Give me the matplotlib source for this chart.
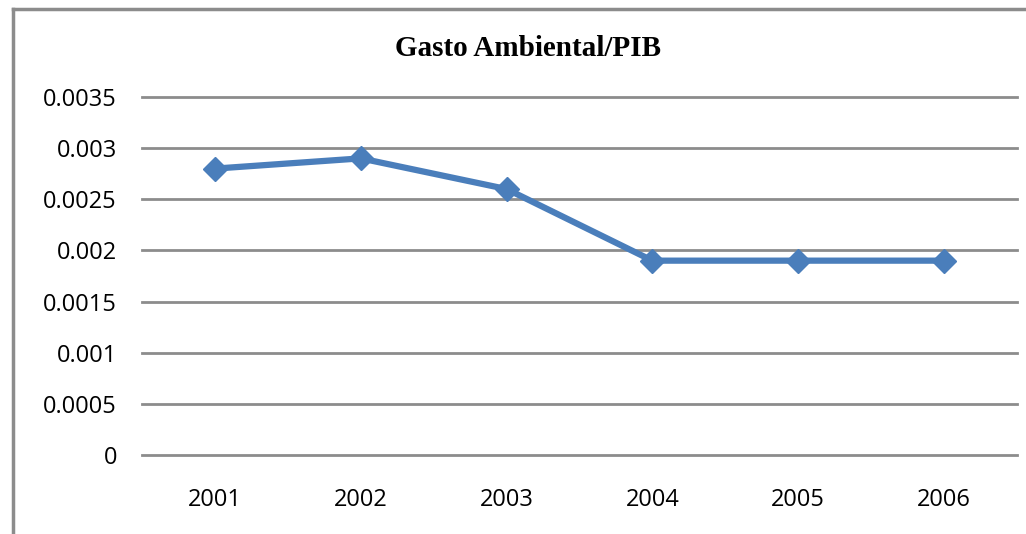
import matplotlib.pyplot as plt
from matplotlib.lines import Line2D

anos = ['2001', '2002', '2003', '2004', '2005', '2006']
gasto_pib = [0.0028, 0.0029, 0.0026, 0.0019, 0.0019, 0.0019]
yticks = [0, 0.0005, 0.001, 0.0015, 0.002, 0.0025, 0.003, 0.0035]
ylabels = ['0', '0.0005', '0.001', '0.0015', '0.002', '0.0025', '0.003', '0.0035']

fig = plt.figure(figsize=(10.26, 5.34), dpi=100)
ax = fig.add_axes([142/1026, 1 - 455/534, 875/1026, 358/534])

x = range(len(anos))
ax.plot(x, gasto_pib, color='#4A7EBB', linewidth=4.5, marker='D', markersize=12.5,
        solid_joinstyle='round')
ax.set_xlim(-0.5, len(anos) - 0.5)
ax.set_ylim(0, 0.0035)
ax.set_yticks(yticks)
ax.set_yticklabels(ylabels)
ax.set_xticks(list(x))
ax.set_xticklabels(anos)
ax.grid(axis='y', color='#8c8c8c', linewidth=2)
for gl in ax.get_ygridlines():
    gl.set_clip_on(False)
ax.set_axisbelow(True)
for s in ax.spines.values():
    s.set_visible(False)
ax.tick_params(length=0, labelsize=17)
ax.tick_params(axis='y', pad=18)
ax.tick_params(axis='x', pad=24)
for t in ax.get_xticklabels() + ax.get_yticklabels():
    t.set_fontfamily('Open Sans')

fig.text(528/1026, 1 - 48/534, 'Gasto Ambiental/PIB', ha='center', va='center',
         fontsize=21, fontweight='bold', family='Liberation Serif')

# borda do grafico (recortada)
fig.add_artist(Line2D([13/1026, 13/1026], [0, 1 - 9/534], color='#8c8c8c', lw=2.5))
fig.add_artist(Line2D([13/1026, 1], [1 - 9/534, 1 - 9/534], color='#8c8c8c', lw=2.5))

fig.savefig('out.png', dpi=100)
